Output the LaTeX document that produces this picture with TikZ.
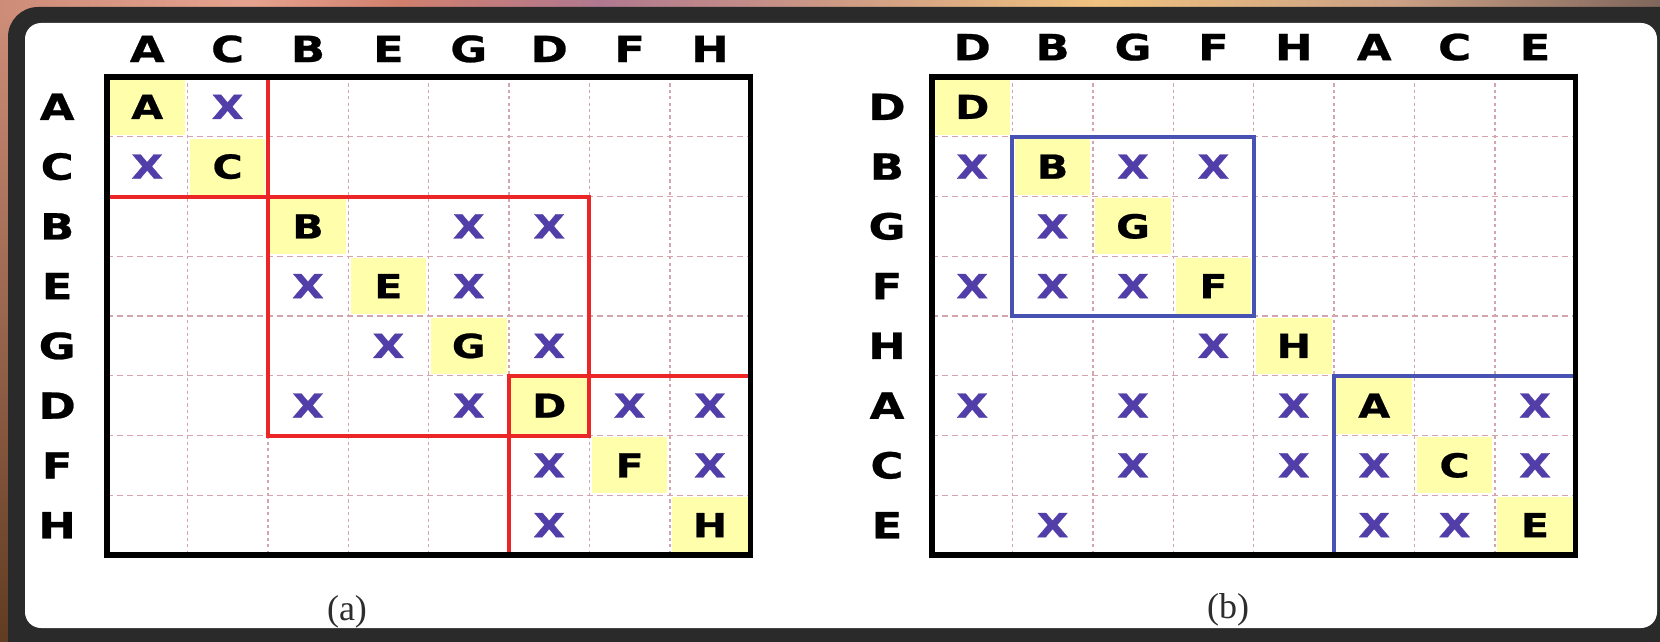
\documentclass[tikz,border=0pt]{standalone}
\usepackage{fontspec}
\newfontfamily\cellfont[FakeStretch=1.25,FakeBold=0.7]{DejaVu Sans Bold}
\newfontfamily\capfont{Liberation Serif}
\usetikzlibrary{positioning}

\definecolor{framegray}{RGB}{42,42,42}
\definecolor{diagfill}{RGB}{255,254,170}
\definecolor{xblue}{RGB}{82,62,168}
\definecolor{gridpink}{RGB}{212,165,175}
\definecolor{blockred}{RGB}{236,38,38}
\definecolor{blockblue}{RGB}{72,82,178}
\definecolor{capgray}{RGB}{45,45,45}
\definecolor{leftTop}{RGB}{204,140,120}
\definecolor{leftMid}{RGB}{190,120,90}
\definecolor{leftBot}{RGB}{96,60,32}

\pgfdeclarehorizontalshading{backdrop}{100bp}{%
  rgb(0bp)=(0.80,0.55,0.47); rgb(25bp)=(0.80,0.55,0.47);
  rgb(32.5bp)=(0.90,0.64,0.56); rgb(37bp)=(0.82,0.50,0.43);
  rgb(43bp)=(0.69,0.47,0.56); rgb(50bp)=(0.80,0.60,0.52);
  rgb(58bp)=(0.94,0.76,0.50); rgb(67bp)=(0.80,0.63,0.52);
  rgb(75bp)=(0.50,0.40,0.36); rgb(100bp)=(0.50,0.40,0.36)}

\begin{document}
\begin{tikzpicture}[
    x=0.5pt, y=-0.5pt,
    hdr/.style={font=\cellfont\fontsize{18}{18}\selectfont, inner sep=0pt},
    entry/.style={font=\cellfont\fontsize{16.5}{16.5}\selectfont, inner sep=0pt},
    xmark/.style={entry, text=xblue},
    diag/.style={fill=diagfill},
    vline/.style={gridpink, line width=0.7pt, dash pattern=on 1.6pt off 1.6pt},
    hline/.style={gridpink, line width=0.7pt, dash pattern=on 3pt off 2pt},
    redblock/.style={blockred, line width=2pt},
    blueblock/.style={blockblue, line width=2pt},
    border/.style={draw=black, line width=2.6pt},
    captext/.style={font=\capfont\fontsize{18}{18}\selectfont, text=capgray,
                    inner sep=0pt},
  ]
  \useasboundingbox (0,0) rectangle (1660,642);

  % ---------------------------------------------------------------
  % backdrop and the dark rounded frame
  % ---------------------------------------------------------------
  \shade[shading=backdrop] (0,0) rectangle (1660,642);
  \shade[top color=leftTop, middle color=leftMid, bottom color=leftBot]
    (0,20) rectangle (12,642);
  \fill[framegray, rounded corners=15pt] (8,7) rectangle (1700,690);
  \fill[white, rounded corners=8pt] (25,23) rectangle (1657,628);

  % ---------------------------------------------------------------
  % (a): order A C B E G D F H, red blocks
  % ---------------------------------------------------------------
  \begin{scope}[xshift=53.5pt, yshift=-38.5pt, x=40.2pt, y=-29.875pt]
    \foreach \name [count=\i from 0] in {A,C,B,E,G,D,F,H} {
      \fill[diag] (\i+0.03,\i+0.03) rectangle (\i+0.97,\i+0.97);
    }
    \foreach \k in {1,...,7} {
      \draw[vline] (\k,0) -- (\k,8);
      \draw[hline] (0,\k) -- (8,\k);
    }

    \foreach \name [count=\i from 0] in {A,C,B,E,G,D,F,H} {
      \node[hdr] (a-c\i) at (\i+0.5,-0.47) {\name};
      \node[hdr] (a-r\i) at (-0.62,\i+0.5) {\name};
      \node[entry] (a-d\i) at (\i+0.5,\i+0.5) {\name};
    }
    \foreach \c/\r in {1/0,0/1,4/2,5/2,2/3,4/3,3/4,5/4,2/5,4/5,6/5,7/5,
                       5/6,7/6,5/7}
      \node[xmark] (a-x\c-\r) at (\c+0.5,\r+0.5) {X};

    % blocks
    \draw[redblock] (0,0) rectangle (2,2);
    \draw[redblock] (2,2) rectangle (6,6);
    \draw[redblock] (5,5) rectangle (8,8);
    \draw[border] (0,0) rectangle (8,8);
  \end{scope}

  % ---------------------------------------------------------------
  % (b): order D B G F H A C E, blue blocks
  % ---------------------------------------------------------------
  \begin{scope}[xshift=466pt, yshift=-38.5pt, x=40.2pt, y=-29.875pt]
    \foreach \name [count=\i from 0] in {D,B,G,F,H,A,C,E} {
      \fill[diag] (\i+0.03,\i+0.03) rectangle (\i+0.97,\i+0.97);
    }
    \foreach \k in {1,...,7} {
      \draw[vline] (\k,0) -- (\k,8);
      \draw[hline] (0,\k) -- (8,\k);
    }

    \foreach \name [count=\i from 0] in {D,B,G,F,H,A,C,E} {
      \node[hdr] (b-c\i) at (\i+0.5,-0.5) {\name};
      \node[hdr] (b-r\i) at (-0.56,\i+0.5) {\name};
      \node[entry] (b-d\i) at (\i+0.5,\i+0.5) {\name};
    }
    \foreach \c/\r in {0/1,2/1,3/1,1/2,0/3,1/3,2/3,3/4,0/5,2/5,4/5,7/5,
                       2/6,4/6,5/6,7/6,1/7,5/7,6/7}
      \node[xmark] (b-x\c-\r) at (\c+0.5,\r+0.5) {X};

    % blocks
    \draw[blueblock] (1,1) rectangle (4,4);
    \draw[blueblock] (5,5) rectangle (8,8);
    \draw[border] (0,0) rectangle (8,8);
  \end{scope}

  % captions
  \node[captext] (capA) at (347,612) {(a)};
  \node[captext] (capB) at (1228,610) {(b)};
\end{tikzpicture}
\end{document}
